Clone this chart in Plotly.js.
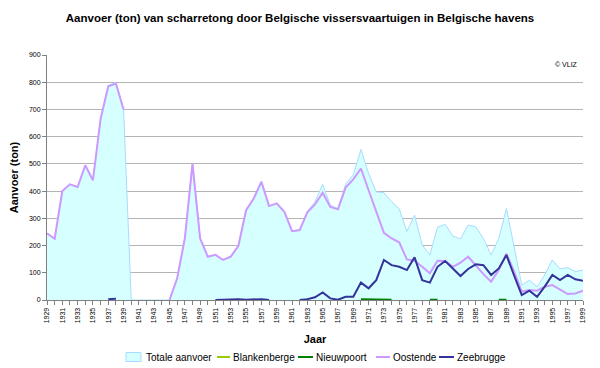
<!DOCTYPE html>
<html>
<head>
<meta charset="utf-8">
<script src="https://cdn.plot.ly/plotly-3.0.1.min.js"></script>
<style>html,body{margin:0;padding:0;background:#fff;}#chart{width:600px;height:368px;}</style>
</head>
<body>
<div id="chart"></div>
<script>
const years = [];
for (let y = 1929; y <= 1999; y++) years.push(y);

const totaal = [245,225,400,425,415,495,440,665,788,800,700,
  0,0,0,0,0,0,80,226,501,226,159,166,148,162,202,330,376,437,345,355,324,253,257,
  325,361,425,348,336,425,460,553,465,397,394,361,335,252,312,202,165,267,278,235,224,275,269,226,165,226,336,195,55,73,48,92,147,114,119,104,110];

const oostende = [245,225,400,425,415,495,440,665,785,795,700,
  null,null,null,null,null,0,80,226,501,226,159,166,147,159,199,330,373,434,345,355,324,253,257,
  322,351,394,342,333,413,443,483,403,324,247,226,212,149,144,122,98,144,143,122,137,159,125,95,67,110,170,105,31,37,34,49,55,37,22,24,34];

const zeebrugge = [null,null,null,null,null,null,null,null,3,5,null,
  null,null,null,null,null,null,null,null,null,null,null,0,1,3,3,1,3,3,0,null,null,null,0,
  3,10,28,6,1,12,12,64,43,73,147,128,122,110,157,73,64,122,143,116,88,114,131,128,92,116,165,90,18,34,12,49,92,73,92,76,71];

const nieuwpoort = [null,null,null,null,null,null,null,null,null,null,null,
  null,null,null,null,null,null,null,null,null,null,null,null,null,null,null,null,null,null,null,null,null,null,null,
  null,null,null,null,null,null,null,3,2,1,1,1,null,null,null,null,1,1,null,null,null,null,null,null,null,1,1,null,null,null,null,null,null,null,null,null,null];

const blankenberge = years.map(() => null);

const tickYears = years.filter(y => (y - 1929) % 2 === 0);

const seriesNames = ['Totale aanvoer', 'Blankenberge', 'Nieuwpoort', 'Oostende', 'Zeebrugge'];
const seriesColors = ['#a6dcff', '#99cc00', '#008000', '#cc99ff', '#333399'];

const font = "Liberation Sans, Arial, sans-serif";

const traces = [
  {x: years, y: totaal, name: seriesNames[0], type: 'scatter', mode: 'lines',
   fill: 'tozeroy', fillcolor: '#d6ffff', line: {color: seriesColors[0], width: 1}},
  {x: years, y: blankenberge, name: seriesNames[1], type: 'scatter', mode: 'lines',
   line: {color: seriesColors[1], width: 2}},
  {x: years, y: nieuwpoort, name: seriesNames[2], type: 'scatter', mode: 'lines',
   line: {color: seriesColors[2], width: 2}},
  {x: years, y: oostende, name: seriesNames[3], type: 'scatter', mode: 'lines',
   line: {color: seriesColors[3], width: 2}},
  {x: years, y: zeebrugge, name: seriesNames[4], type: 'scatter', mode: 'lines',
   line: {color: seriesColors[4], width: 2}}
];

// compact legend (pixel positions converted to paper coords)
const W = 600, H = 368, ml = 47, mr = 17, mt = 55, mb = 68;
const pw = W - ml - mr, ph = H - mt - mb;
const px = x => (x - ml) / pw;
const py = y => (H - mb - y) / ph;
const legY = 357;
const legItems = [
  {sym: [126, 141], txt: 144},
  {sym: [217, 230], txt: 231},
  {sym: [298, 313], txt: 314},
  {sym: [376, 390], txt: 391},
  {sym: [439, 454], txt: 455}
];
const shapes = [];
const annotations = [
  {text: '© VLIZ', xref: 'paper', yref: 'paper', x: 0.995, y: 0.985, xanchor: 'right', yanchor: 'top',
   showarrow: false, font: {family: font, size: 7, color: '#000'}}
];
legItems.forEach((it, i) => {
  if (i === 0) {
    shapes.push({type: 'rect', xref: 'paper', yref: 'paper', x0: px(it.sym[0]), x1: px(it.sym[1]),
      y0: py(legY + 4.5), y1: py(legY - 4.5), fillcolor: '#d6ffff', line: {color: seriesColors[0], width: 1}});
  } else {
    shapes.push({type: 'line', xref: 'paper', yref: 'paper', x0: px(it.sym[0]), x1: px(it.sym[1]),
      y0: py(legY), y1: py(legY), line: {color: seriesColors[i], width: 2}});
  }
  annotations.push({text: seriesNames[i], xref: 'paper', yref: 'paper', x: px(it.txt), y: py(legY),
    xanchor: 'left', yanchor: 'middle', showarrow: false, font: {family: font, size: 10, color: '#000'}});
});

const layout = {
  width: W, height: H,
  margin: {l: ml, r: mr, t: mt, b: mb, autoexpand: false},
  paper_bgcolor: '#ffffff', plot_bgcolor: '#ffffff',
  font: {family: font, size: 8, color: '#000'},
  title: {text: '<b>Aanvoer (ton) van scharretong door Belgische vissersvaartuigen in Belgische havens</b>',
          font: {family: font, size: 11.5, color: '#000'}, x: 0.5, xanchor: 'center', y: 0.95, yanchor: 'middle'},
  showlegend: false,
  xaxis: {
    range: [1929, 1999], tickvals: tickYears, ticktext: tickYears.map(String), automargin: false,
    tickangle: -90, tickfont: {size: 7}, ticks: 'outside', ticklen: 4, tickcolor: '#808080',
    minor: {dtick: 1, tick0: 1929, ticks: 'outside', ticklen: 4, tickcolor: '#808080', showgrid: false},
    showline: true, linecolor: '#808080', linewidth: 1, showgrid: false, zeroline: false,
    title: {text: '<b>Jaar</b>', font: {family: font, size: 11}, standoff: 12}
  },
  yaxis: {
    range: [0, 900], dtick: 100, tickfont: {size: 7}, ticks: 'outside', ticklen: 4, tickcolor: '#808080',
    automargin: false,
    showline: true, linecolor: '#808080', linewidth: 1, showgrid: true, gridcolor: '#b4b4b4', gridwidth: 1,
    zeroline: false,
    title: {text: '<b>Aanvoer (ton)</b>', font: {family: font, size: 11}, standoff: 8}
  },
  shapes: shapes,
  annotations: annotations
};

Plotly.newPlot('chart', traces, layout, {displayModeBar: false, staticPlot: true});
</script>
</body>
</html>
